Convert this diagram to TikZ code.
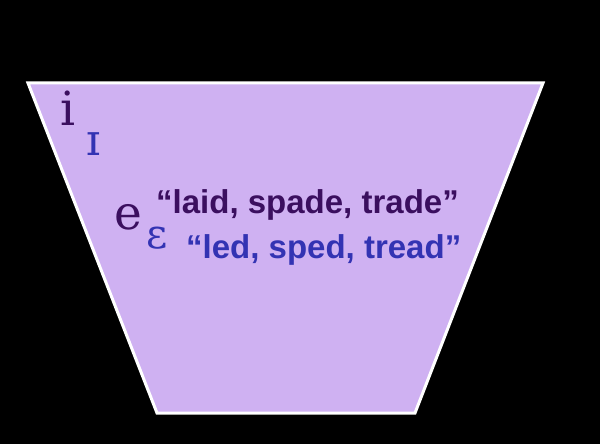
\documentclass[tikz,border=0pt]{standalone}
\usepackage{fontspec}
\setmainfont{DejaVu Serif}
\setsansfont{Liberation Sans}
\definecolor{fillc}{HTML}{CFB1F2}
\definecolor{dpurp}{HTML}{3B0F5F}
\definecolor{ipablue}{HTML}{3333B3}
\tikzset{
  ipa/.style={anchor=base west, inner sep=0pt, font=\fontsize{47}{56}\selectfont},
  ipasmall/.style={anchor=base west, inner sep=0pt, font=\fontsize{41}{49}\selectfont},
  words/.style={anchor=base west, inner sep=0pt, font=\sffamily\bfseries\fontsize{33}{40}\selectfont},
}
\begin{document}
\begin{tikzpicture}[x=1pt,y=-1pt]
\fill[black] (0,0) rectangle (600,444);
\useasboundingbox (0,0) rectangle (600,444);
\draw[white, line width=3pt, fill=fillc] (28,83) -- (543,83) -- (415,413) -- (157,413) -- cycle;
\node[ipa, text=dpurp] (i) at (60,125) {i};
\node[ipa, text=ipablue, font=\fontsize{44}{52}\selectfont] (I) at (86,155) {ɪ};
\node[ipa, text=dpurp] (e) at (114,229) {e};
\node[ipasmall, text=ipablue] (E) at (146,248) {ɛ};
\node[words, text=dpurp] (laid) at (156,213) {“laid, spade, trade”};
\node[words, text=ipablue] (led) at (186,258) {“led, sped, tread”};
\end{tikzpicture}
\end{document}
